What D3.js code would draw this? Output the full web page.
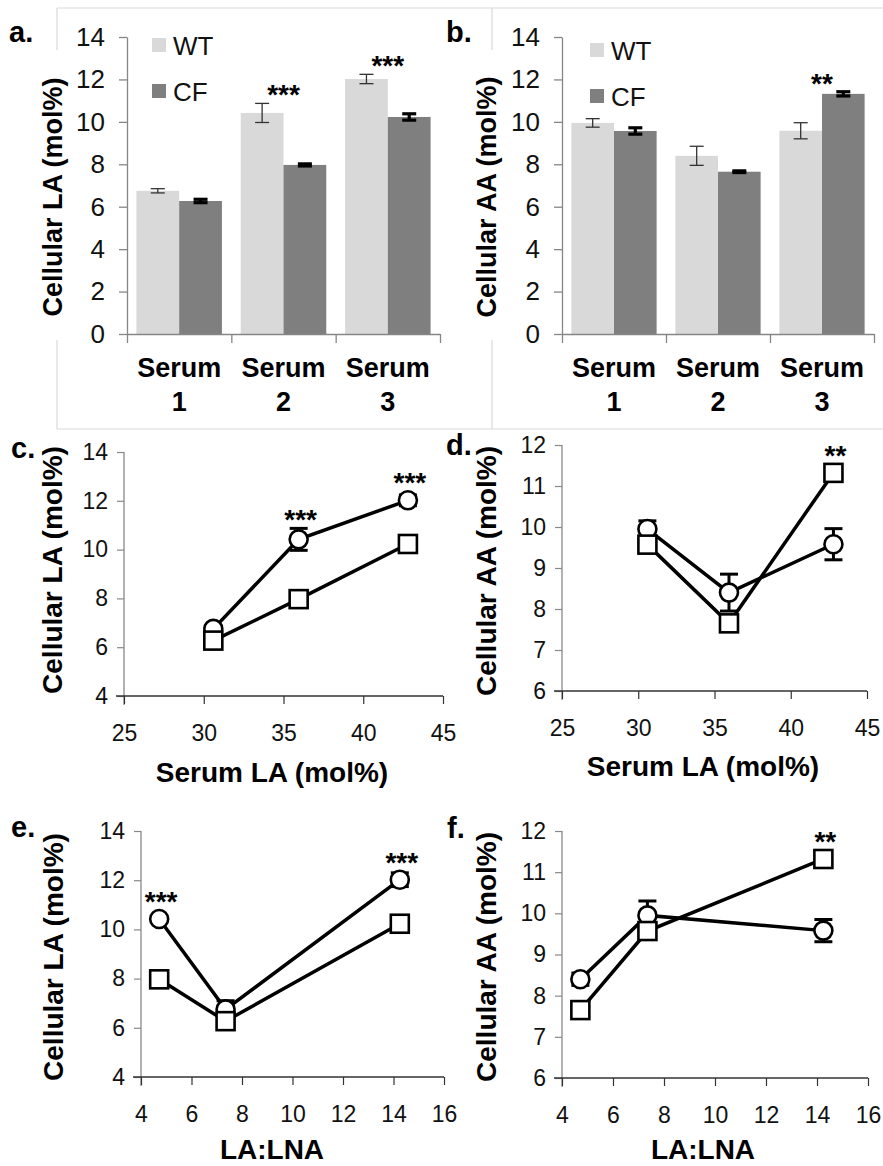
<!DOCTYPE html>
<html><head><meta charset="utf-8">
<script src="https://cdn.jsdelivr.net/npm/d3@7"></script>
<style>
html,body{margin:0;padding:0;background:#fff;}
svg{display:block;font-family:"Liberation Sans",Arial,sans-serif;}
</style></head>
<body>
<svg id="chart" width="883" height="1166"></svg>
<script>
// ---------- data ----------
const serumCats = ["1", "2", "3"];
const groups = ["WT", "CF"];
const wtLA = [6.75, 10.42, 12.02];
const cfLA = [6.27, 7.97, 10.23];
const wtLAerr = [0.1, 0.45, 0.22];
const cfLAerr = [0.08, 0.05, 0.15];
const wtAA = [9.95, 8.4, 9.58];
const cfAA = [9.57, 7.65, 11.32];
const wtAAerr = [0.2, 0.45, 0.38];
const cfAAerr = [0.15, 0.04, 0.1];
// error bars as drawn in panels e and f (serum order)
const wtLAerrRatio = [0.35, 0.1, 0.28];
const cfLAerrRatio = [0.05, 0.05, 0.05];
const wtAAerrRatio = [0.35, 0.15, 0.27];
const cfAAerrRatio = [0.05, 0.05, 0.05];
const serumLA = [30.6, 35.95, 42.8];
const laLnaRatio = [7.35, 4.72, 14.25];
const starsLA = ["", "***", "***"];
const starsAA = ["", "", "**"];
const barTicks = [0, 2, 4, 6, 8, 10, 12, 14];
const laTicks = [4, 6, 8, 10, 12, 14];
const aaTicks = [6, 7, 8, 9, 10, 11, 12];
const serumTicks = [25, 30, 35, 40, 45];
const ratioTicks = [4, 6, 8, 10, 12, 14, 16];

const svg = d3.select("#chart");
const FONT = '"Liberation Sans",Arial,sans-serif';

// ---------- frames (background boxes of top panels) ----------
const frame = svg.append("g").attr("stroke", "#d9d9d9").attr("stroke-width", 1.2).attr("fill", "none");
[[57, 8, 883, 8], [57, 429, 883, 429], [57, 8, 57, 50], [57, 340, 57, 429], [492, 8, 492, 50], [492, 340, 492, 429]]
  .forEach(l => frame.append("line").attr("x1", l[0]).attr("y1", l[1]).attr("x2", l[2]).attr("y2", l[3]));

function panelLabel(txt, x, y) {
  svg.append("text").attr("x", x).attr("y", y).attr("font-size", 29).attr("font-weight", "bold")
    .attr("fill", "#000").text(txt);
}
function yTitle(txt, x, yc, fs) {
  svg.append("text").attr("transform", `translate(${x},${yc}) rotate(-90)`).attr("text-anchor", "middle")
    .attr("font-size", fs).attr("font-weight", "bold").attr("fill", "#000").text(txt);
}

// ---------- bar panels ----------
function barPanel(o) {
  const g = svg.append("g");
  const y = d3.scaleLinear().domain([0, 14]).range([334, 37]);
  const x = d3.scaleBand().domain(serumCats).range([o.x0, o.x1]).paddingInner(0).paddingOuter(0);
  const xs = d3.scaleBand().domain(groups).range([0, x.bandwidth()]).paddingInner(0).paddingOuter(0.22);
  const colors = {WT: "#d9d9d9", CF: "#7f7f7f"};
  const vals = {WT: o.wt, CF: o.cf};
  const errs = {WT: o.wtErr, CF: o.cfErr};

  const ya = g.append("g").attr("transform", `translate(${o.x0},0)`)
    .call(d3.axisLeft(y).tickValues(barTicks).tickSize(8).tickSizeOuter(0).tickPadding(14));
  ya.select(".domain").attr("stroke", "#868686").attr("stroke-width", 1.3);
  ya.selectAll(".tick line").attr("stroke", "#868686").attr("stroke-width", 1.3);
  ya.selectAll(".tick text").attr("font-size", 26).attr("font-family", FONT).attr("fill", "#111");

  groups.forEach(gr => {
    g.selectAll(null).data(serumCats).enter().append("rect")
      .attr("x", (d) => x(d) + xs(gr)).attr("width", xs.bandwidth())
      .attr("y", (d, i) => y(vals[gr][i])).attr("height", (d, i) => y(0) - y(vals[gr][i]))
      .attr("fill", colors[gr]);
  });
  groups.forEach(gr => {
    const sw = gr === "WT" ? 1.3 : 3.2;
    const col = gr === "WT" ? "#333" : "#000";
    serumCats.forEach((c, i) => {
      const cx = x(c) + xs(gr) + xs.bandwidth() / 2;
      const v = vals[gr][i], e = errs[gr][i];
      const eg = g.append("g").attr("stroke", col).attr("stroke-width", sw);
      eg.append("line").attr("x1", cx).attr("x2", cx).attr("y1", y(v - e)).attr("y2", y(v + e));
      [v - e, v + e].forEach(t => eg.append("line").attr("x1", cx - 7).attr("x2", cx + 7).attr("y1", y(t)).attr("y2", y(t)));
    });
  });
  const xl = d3.scaleLinear().domain([0, 3]).range([o.x0, o.x1]);
  const xa = g.append("g").attr("transform", `translate(0,${y(0)})`)
    .call(d3.axisBottom(xl).tickValues([0, 1, 2, 3]).tickFormat("").tickSize(9).tickSizeOuter(0));
  xa.select(".domain").attr("stroke", "#868686").attr("stroke-width", 1.3);
  xa.selectAll(".tick line").attr("stroke", "#868686").attr("stroke-width", 1.3);
  serumCats.forEach(c => {
    const cx = x(c) + x.bandwidth() / 2;
    const t = g.append("text").attr("text-anchor", "middle").attr("font-size", 27).attr("font-weight", "bold").attr("fill", "#000");
    t.append("tspan").attr("x", cx).attr("y", 377).text("Serum");
    t.append("tspan").attr("x", cx).attr("y", 411).text(c);
  });
  o.stars.forEach((s, i) => {
    if (!s) return;
    const top = Math.max(o.wt[i] + o.wtErr[i], o.cf[i] + o.cfErr[i]);
    g.append("text").attr("x", x(serumCats[i]) + x.bandwidth() / 2).attr("y", y(top) + 1)
      .attr("text-anchor", "middle").attr("font-size", 28).attr("font-weight", "bold").attr("fill", "#000").text(s);
  });
  groups.forEach((gr, i) => {
    const ly = o.legY[i];
    g.append("rect").attr("x", o.legX).attr("y", ly).attr("width", 14).attr("height", 14).attr("fill", colors[gr]);
    g.append("text").attr("x", o.legX + 21).attr("y", ly + 17).attr("font-size", 26).attr("fill", "#111").text(gr);
  });
}

barPanel({x0: 127, x1: 440, wt: wtLA, cf: cfLA, wtErr: wtLAerr, cfErr: cfLAerr, stars: starsLA, legX: 152, legY: [38, 84]});
barPanel({x0: 562, x1: 874, wt: wtAA, cf: cfAA, wtErr: wtAAerr, cfErr: cfAAerr, stars: starsAA, legX: 590, legY: [43, 89]});
panelLabel("a.", 9, 42);
panelLabel("b.", 446, 42);
yTitle("Cellular LA (mol%)", 62, 197, 27);
yTitle("Cellular AA (mol%)", 496, 197, 27);

// ---------- line panels ----------
function linePanel(o) {
  const g = svg.append("g");
  const x = d3.scaleLinear().domain(o.xDom).range([o.x0, o.x1]);
  const y = d3.scaleLinear().domain(o.yDom).range([o.yB, o.yT]);
  const ya = g.append("g").attr("transform", `translate(${o.x0},0)`)
    .call(d3.axisLeft(y).tickValues(o.yTicks).tickFormat(d3.format("d")).tickSize(7).tickSizeOuter(0).tickPadding(9));
  ya.select(".domain").attr("stroke", "#888").attr("stroke-width", 1.3).attr("d", `M0,${o.yT}V${o.yB + 9}`);
  ya.selectAll(".tick line").attr("stroke", "#888").attr("stroke-width", 1.2);
  ya.selectAll(".tick text").attr("font-size", 23).attr("font-family", FONT).attr("fill", "#111");
  const xa = g.append("g").attr("transform", `translate(0,${o.yB})`)
    .call(d3.axisBottom(x).tickValues(o.xTicks).tickFormat(d3.format("d")).tickSize(8).tickSizeOuter(0).tickPadding(21));
  xa.select(".domain").attr("stroke", "#333").attr("stroke-width", 1.3).attr("d", `M${o.x0 - 8},0H${o.x1}`);
  xa.selectAll(".tick line").attr("stroke", "#333").attr("stroke-width", 1.2);
  xa.selectAll(".tick text").attr("font-size", 23).attr("font-family", FONT).attr("fill", "#111");

  const series = [
    {v: o.wt, e: o.wtErr, shape: "circle"},
    {v: o.cf, e: o.cfErr, shape: "square"}
  ];
  const order = d3.range(o.xs.length).sort((a, b) => o.xs[a] - o.xs[b]);
  const line = d3.line().x(i => x(o.xs[i]));
  series.forEach(s => {
    g.append("path").attr("d", line.y(i => y(s.v[i]))(order)).attr("fill", "none")
      .attr("stroke", "#000").attr("stroke-width", 3.5);
  });
  series.forEach(s => {
    o.xs.forEach((xv, i) => {
      const cx = x(xv), v = s.v[i], e = s.e[i];
      const eg = g.append("g").attr("stroke", "#000").attr("stroke-width", 3);
      eg.append("line").attr("x1", cx).attr("x2", cx).attr("y1", y(v - e)).attr("y2", y(v + e));
      [v - e, v + e].forEach(t => eg.append("line").attr("x1", cx - 9).attr("x2", cx + 9).attr("y1", y(t)).attr("y2", y(t)));
    });
  });
  series.forEach(s => {
    o.xs.forEach((xv, i) => {
      if (s.shape === "circle") {
        g.append("circle").attr("cx", x(xv)).attr("cy", y(s.v[i])).attr("r", 9)
          .attr("fill", "#fff").attr("stroke", "#000").attr("stroke-width", 2.6);
      } else {
        g.append("rect").attr("x", x(xv) - 9).attr("y", y(s.v[i]) - 9).attr("width", 18).attr("height", 18)
          .attr("fill", "#fff").attr("stroke", "#000").attr("stroke-width", 2.6);
      }
    });
  });
  o.stars.forEach((st, i) => {
    if (!st) return;
    const top = Math.min(y(o.wt[i] + o.wtErr[i]), y(o.cf[i] + o.cfErr[i]), y(Math.max(o.wt[i], o.cf[i])) - 9);
    g.append("text").attr("x", x(o.xs[i]) + 2).attr("y", top + 1).attr("text-anchor", "middle")
      .attr("font-size", 28).attr("font-weight", "bold").attr("fill", "#000").text(st);
  });
  g.append("text").attr("x", o.xtX).attr("y", o.xtY).attr("text-anchor", "middle").attr("font-size", 28)
    .attr("font-weight", "bold").attr("fill", "#000").text(o.xTitle);
}

linePanel({x0: 124, x1: 443, yT: 452, yB: 696, xDom: [25, 45], yDom: [4, 14], xTicks: serumTicks, yTicks: laTicks,
  xs: serumLA, wt: wtLA, cf: cfLA, wtErr: wtLAerr, cfErr: cfLAerr, stars: starsLA,
  xTitle: "Serum LA (mol%)", xtX: 272, xtY: 782});
linePanel({x0: 562, x1: 867, yT: 445, yB: 691, xDom: [25, 45], yDom: [6, 12], xTicks: serumTicks, yTicks: aaTicks,
  xs: serumLA, wt: wtAA, cf: cfAA, wtErr: wtAAerr, cfErr: cfAAerr, stars: starsAA,
  xTitle: "Serum LA (mol%)", xtX: 703, xtY: 776});
linePanel({x0: 141, x1: 444, yT: 831, yB: 1077, xDom: [4, 16], yDom: [4, 14], xTicks: ratioTicks, yTicks: laTicks,
  xs: laLnaRatio, wt: wtLA, cf: cfLA, wtErr: wtLAerrRatio, cfErr: cfLAerrRatio, stars: starsLA,
  xTitle: "LA:LNA", xtX: 272, xtY: 1159});
linePanel({x0: 562, x1: 868, yT: 831, yB: 1078, xDom: [4, 16], yDom: [6, 12], xTicks: ratioTicks, yTicks: aaTicks,
  xs: laLnaRatio, wt: wtAA, cf: cfAA, wtErr: wtAAerrRatio, cfErr: cfAAerrRatio, stars: starsAA,
  xTitle: "LA:LNA", xtX: 703, xtY: 1159});

panelLabel("c.", 11, 458);
panelLabel("d.", 446, 455);
panelLabel("e.", 11, 837);
panelLabel("f.", 447, 838);
yTitle("Cellular LA (mol%)", 62, 570, 28);
yTitle("Cellular AA (mol%)", 496, 571, 28);
yTitle("Cellular LA (mol%)", 63, 957, 28);
yTitle("Cellular AA (mol%)", 496, 957, 28);
</script>
</body></html>
